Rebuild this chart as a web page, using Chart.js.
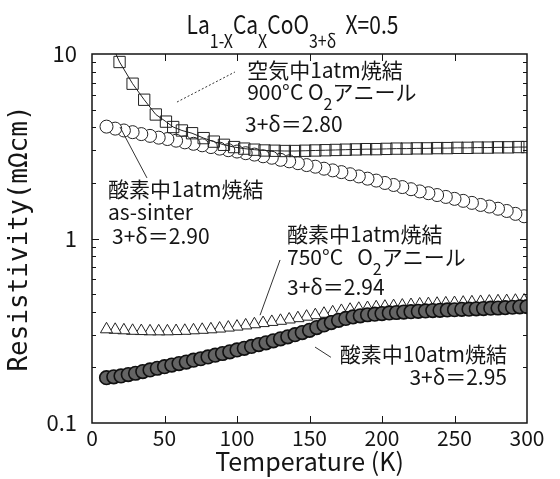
<!DOCTYPE html>
<html>
<head>
<meta charset="utf-8">
<script src="https://cdn.jsdelivr.net/npm/chart.js@4.4.0/dist/chart.umd.min.js"></script>
<style>
  html, body { margin: 0; padding: 0; background: #fff; }
  #wrap { width: 560px; height: 479px; }
</style>
</head>
<body>
<div id="wrap"><canvas id="chart"></canvas></div>
<script>
const FONT = "'Noto Sans CJK JP', 'Noto Sans', sans-serif";
const MONO = "'DejaVu Sans Mono', monospace";
const INK = '#151515';

// 空気中1atm焼結 900°C O2アニール, 3+δ=2.80 (squares)
const airTemps = [12, 19, 28, 36, 44, 51, 56, 62, 69, 77, 84, 91, 98, 105, 112, 119, 126, 133, 140, 147,
    154, 161, 168, 175, 182, 189, 196, 203, 210, 217, 224, 231, 238, 245, 252, 259, 266, 273, 280, 287, 294, 300];
const airValues = [12, 9.05, 6.9, 5.65, 4.7, 4.3, 4.02, 3.85, 3.72, 3.5, 3.35, 3.22, 3.13, 3.07, 3.03, 3.0, 2.99, 2.98, 2.98, 2.99,
    3.0, 3.01, 3.02, 3.03, 3.04, 3.05, 3.05, 3.06, 3.07, 3.07, 3.08, 3.08, 3.09, 3.09, 3.1, 3.1, 3.11, 3.11, 3.12, 3.12, 3.13, 3.13];

// 酸素中1atm焼結 as-sinter, 3+δ=2.90 (open circles)
const sinterTemps = [10, 16, 22, 28, 34, 40, 46, 52, 58, 64, 70, 76, 82, 88, 94, 100, 106, 112, 118, 124, 130, 136, 142, 148,
    154, 160, 166, 172, 178, 184, 190, 196, 202, 208, 214, 220, 226, 232, 238, 244, 250, 256, 262, 268, 274, 280, 286, 292, 298];
const sinterValues = [4.04, 3.94, 3.85, 3.77, 3.68, 3.6, 3.52, 3.46, 3.39, 3.32, 3.26, 3.2, 3.13, 3.07, 3.01, 2.96, 2.9, 2.85, 2.79, 2.74,
    2.67, 2.62, 2.56, 2.5, 2.45, 2.39, 2.34, 2.29, 2.23, 2.17, 2.11, 2.06, 2.0, 1.95, 1.9, 1.85, 1.8, 1.76, 1.72, 1.68,
    1.64, 1.6, 1.56, 1.52, 1.49, 1.45, 1.41, 1.36, 1.32];

// 酸素中1atm焼結 750°C O2アニール, 3+δ=2.94 (triangles)
const annealTemps = sinterTemps;
const annealValues = [0.322, 0.32, 0.318, 0.316, 0.315, 0.314, 0.314, 0.314, 0.315, 0.316, 0.318, 0.32, 0.322, 0.325, 0.329, 0.333,
    0.338, 0.343, 0.348, 0.353, 0.358, 0.364, 0.37, 0.377, 0.384, 0.391, 0.398, 0.405, 0.411, 0.416, 0.42, 0.424, 0.427,
    0.43, 0.433, 0.436, 0.439, 0.441, 0.443, 0.445, 0.447, 0.449, 0.451, 0.453, 0.455, 0.457, 0.458, 0.46, 0.461];

// 酸素中10atm焼結, 3+δ=2.95 (filled circles)
const hpTemps = [10, 15, 20, 25, 30, 35, 40, 45, 50, 55, 60, 65, 70, 75, 80, 85, 90, 95, 100, 105, 110, 115, 120, 125, 130,
    135, 140, 145, 150, 155, 160, 165, 170, 175, 180, 185, 190, 195, 200, 205, 210, 215, 220, 225, 230, 235, 240, 245,
    250, 255, 260, 265, 270, 275, 280, 285, 290, 295, 300];
const hpValues = [0.176, 0.178, 0.18, 0.183, 0.186, 0.19, 0.194, 0.198, 0.202, 0.206, 0.21, 0.214, 0.219, 0.223, 0.228, 0.233,
    0.238, 0.243, 0.249, 0.254, 0.26, 0.266, 0.272, 0.279, 0.286, 0.293, 0.301, 0.309, 0.318, 0.329, 0.34, 0.35, 0.36,
    0.369, 0.376, 0.381, 0.386, 0.389, 0.392, 0.395, 0.397, 0.399, 0.401, 0.403, 0.405, 0.407, 0.408, 0.41, 0.411,
    0.413, 0.414, 0.416, 0.417, 0.419, 0.42, 0.422, 0.424, 0.426, 0.427];

const xTicks = [0, 50, 100, 150, 200, 250, 300];
const yTicks = [0.1, 0.2, 0.3, 0.4, 0.5, 0.6, 0.7, 0.8, 0.9, 1, 2, 3, 4, 5, 6, 7, 8, 9, 10];
const yLabels = [0.1, 1, 10];

// text blocks, anchored in data units (T, ρ)
const notes = [
    { x: 107, y: 8.19, align: 'left', runs: [['空気中1atm焼結']] },
    { x: 107, y: 6.22, align: 'left', runs: [['900°C O'], ['2', 'sub'], ['アニール']] },
    { x: 105.5, y: 4.17, align: 'left', runs: [['3+δ＝2.80']] },
    { x: 11, y: 1.855, align: 'left', runs: [['酸素中1atm焼結']] },
    { x: 11, y: 1.4, align: 'left', runs: [['as-sinter']] },
    { x: 13.8, y: 1.03, align: 'left', runs: [['3+δ＝2.90']] },
    { x: 134.5, y: 1.058, align: 'left', runs: [['酸素中1atm焼結']] },
    { x: 134.5, y: 0.789, align: 'left', runs: [['750°C   O'], ['2', 'sub'], ['アニール']] },
    { x: 134.5, y: 0.5475, align: 'left', runs: [['3+δ＝2.94']] },
    { x: 286.2, y: 0.2376, align: 'right', runs: [['酸素中10atm焼結']] },
    { x: 286.2, y: 0.1773, align: 'right', runs: [['3+δ＝2.95']] }
];

const leaders = [
    { from: [58.6, 5.49], to: [98.6, 7.99], dash: [2, 2] },
    { from: [19.3, 4.02], to: [37.9, 2.13], dash: [] },
    { from: [129.7, 0.765], to: [115.9, 0.384], dash: [] },
    { from: [153.8, 0.258], to: [164.8, 0.227], dash: [] }
];

function toPoints(temps, values) {
    return temps.map((t, i) => ({ x: t, y: values[i] }));
}

// draws a line made of runs, subscripts dropped below the baseline; sx squeezes it horizontally
function drawRuns(ctx, runs, x, y, size, align, sx) {
    sx = sx || 1;
    const parts = runs.map(function (r) {
        const sub = r[1] === 'sub';
        const fs = sub ? Math.round(size * 0.75) : size;
        ctx.font = fs + 'px ' + FONT;
        return { text: r[0], font: ctx.font, w: ctx.measureText(r[0]).width, dy: sub ? size * 0.55 : 0 };
    });
    const total = parts.reduce((s, p) => s + p.w, 0) * sx;
    let left = align === 'right' ? x - total : (align === 'center' ? x - total / 2 : x);
    ctx.save();
    ctx.translate(left, y);
    ctx.scale(sx, 1);
    ctx.textAlign = 'left';
    let cx = 0;
    for (const p of parts) {
        ctx.font = p.font;
        ctx.fillText(p.text, cx, p.dy);
        cx += p.w;
    }
    ctx.restore();
}

const decorPlugin = {
    id: 'decor',
    afterDatasetsDraw(chart) {
        const ctx = chart.ctx;
        const area = chart.chartArea;
        const xs = chart.scales.x;
        const ys = chart.scales.y;

        ctx.save();
        ctx.strokeStyle = INK;
        ctx.lineWidth = 1.5;
        ctx.strokeRect(area.left, area.top, area.right - area.left, area.bottom - area.top);

        // inward tick marks
        ctx.lineWidth = 1;
        ctx.beginPath();
        for (const t of xTicks.slice(1, -1)) {
            const px = Math.round(xs.getPixelForValue(t)) + 0.5;
            ctx.moveTo(px, area.bottom); ctx.lineTo(px, area.bottom - 7);
            ctx.moveTo(px, area.top); ctx.lineTo(px, area.top + 7);
        }
        for (const v of yTicks.slice(1, -1)) {
            const py = Math.round(ys.getPixelForValue(v)) + 0.5;
            const len = yLabels.includes(v) ? 7 : 4;
            ctx.moveTo(area.left, py); ctx.lineTo(area.left + len, py);
            ctx.moveTo(area.right, py); ctx.lineTo(area.right - len, py);
        }
        ctx.stroke();

        // leader lines
        ctx.strokeStyle = '#333';
        for (const l of leaders) {
            ctx.setLineDash(l.dash);
            ctx.beginPath();
            ctx.moveTo(xs.getPixelForValue(l.from[0]), ys.getPixelForValue(l.from[1]));
            ctx.lineTo(xs.getPixelForValue(l.to[0]), ys.getPixelForValue(l.to[1]));
            ctx.stroke();
        }
        ctx.setLineDash([]);

        // annotations
        ctx.fillStyle = INK;
        ctx.textBaseline = 'middle';
        for (const n of notes) {
            drawRuns(ctx, n.runs, xs.getPixelForValue(n.x), ys.getPixelForValue(n.y), 21, n.align);
        }

        // title
        ctx.textBaseline = 'alphabetic';
        drawRuns(ctx, [['La'], ['1-X', 'sub'], ['Ca'], ['X', 'sub'], ['CoO'], ['3+δ', 'sub'], ['  X=0.5']],
            (area.left + area.right) / 2 - 17, 34, 25, 'center', 0.84);
        ctx.restore();
    }
};

const chart = new Chart(document.getElementById('chart').getContext('2d'), {
    type: 'scatter',
    data: {
        datasets: [
            {
                label: '酸素中10atm焼結',
                data: toPoints(hpTemps, hpValues),
                pointStyle: 'circle',
                pointRadius: 6.8,
                pointBackgroundColor: '#646464',
                pointBorderColor: '#111',
                pointBorderWidth: 1.6,
                showLine: false
            },
            {
                label: '空気中1atm焼結',
                data: toPoints(airTemps, airValues),
                pointStyle: 'rect',
                pointRadius: 8,
                pointBackgroundColor: 'rgba(0,0,0,0)',
                pointBorderColor: '#222',
                pointBorderWidth: 1,
                borderColor: '#222',
                borderWidth: 1,
                showLine: true
            },
            {
                label: '750°C O2アニール',
                // measured while cooling: drawn from 300 K down so the low-T marks sit on top
                data: toPoints(annealTemps, annealValues).reverse(),
                pointStyle: 'triangle',
                pointRadius: 7,
                pointBackgroundColor: '#fff',
                pointBorderColor: '#222',
                pointBorderWidth: 1,
                showLine: false
            },
            {
                label: 'as-sinter',
                data: toPoints(sinterTemps, sinterValues).reverse(),
                pointStyle: 'circle',
                pointRadius: 6.5,
                pointBackgroundColor: '#fff',
                pointBorderColor: '#222',
                pointBorderWidth: 1,
                showLine: false
            }
        ]
    },
    options: {
        responsive: true,
        maintainAspectRatio: false,
        animation: false,
        events: [],
        layout: { padding: { top: 54, right: 33, left: 0, bottom: 0 } },
        plugins: {
            legend: { display: false },
            tooltip: { enabled: false }
        },
        scales: {
            x: {
                type: 'linear',
                min: 0,
                max: 300,
                afterBuildTicks: function (scale) {
                    scale.ticks = xTicks.map(v => ({ value: v }));
                },
                afterFit: function (scale) {
                    scale.height = 56;
                },
                grid: { display: false, drawTicks: false },
                border: { display: false },
                ticks: {
                    autoSkip: false,
                    maxRotation: 0,
                    padding: 2,
                    color: INK,
                    font: { family: FONT, size: 21 }
                },
                title: {
                    display: true,
                    text: 'Temperature (K)',
                    color: INK,
                    font: { family: FONT, size: 25 },
                    padding: { top: 0, bottom: 3 }
                }
            },
            y: {
                type: 'logarithmic',
                min: 0.1,
                max: 10,
                afterBuildTicks: function (scale) {
                    scale.ticks = yTicks.map(v => ({ value: v }));
                },
                afterFit: function (scale) {
                    scale.width = 92;
                },
                grid: { display: false, drawTicks: false },
                border: { display: false },
                ticks: {
                    autoSkip: false,
                    padding: 15,
                    color: INK,
                    font: { family: FONT, size: 22 },
                    callback: function (value) {
                        return yLabels.includes(value) ? String(value) : '';
                    }
                },
                title: {
                    display: true,
                    text: 'Resistivity(mΩcm)',
                    color: INK,
                    font: { family: MONO, size: 26 },
                    padding: { top: 5, bottom: 0 }
                }
            }
        }
    },
    plugins: [decorPlugin]
});
</script>
</body>
</html>
